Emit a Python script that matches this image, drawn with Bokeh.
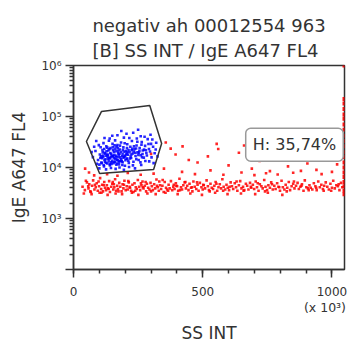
from bokeh.plotting import figure
from bokeh.models import Range1d, FixedTicker, Label, Title, LinearAxis
from bokeh.embed import file_html
from bokeh.resources import INLINE

# ---------------- data (x in units of 10^3, y raw) ----------------
red_x = [35, 44, 52, 58, 61, 67, 72, 76, 81, 86,
         90, 94, 99, 103, 107, 111, 114, 119, 122, 126,
         129, 133, 138, 141, 146, 150, 154, 158, 161, 165,
         169, 172, 177, 181, 186, 190, 193, 197, 202, 206,
         210, 214, 219, 223, 228, 232, 236, 241, 245, 249,
         254, 258, 263, 267, 271, 276, 281, 284, 289, 294,
         298, 303, 307, 312, 316, 321, 326, 330, 335, 339,
         344, 349, 353, 358, 362, 368, 372, 377, 382, 386,
         391, 396, 401, 405, 410, 416, 420, 425, 430, 435,
         440, 445, 449, 455, 460, 464, 469, 475, 480, 484,
         489, 495, 500, 504, 509, 515, 520, 524, 530, 535,
         540, 545, 550, 556, 561, 566, 571, 576, 581, 587,
         592, 597, 602, 608, 613, 618, 624, 629, 634, 640,
         645, 650, 656, 661, 667, 672, 677, 683, 688, 694,
         699, 705, 710, 716, 721, 727, 732, 738, 743, 749,
         754, 760, 765, 771, 777, 782, 788, 793, 799, 805,
         810, 816, 821, 827, 833, 838, 844, 850, 855, 861,
         867, 872, 878, 884, 890, 895, 901, 907, 913, 918,
         924, 930, 936, 941, 947, 953, 959, 965, 970, 976,
         982, 988, 994, 1000, 1005, 1011, 1017, 1023, 1029, 1035,
         48, 65, 83, 97, 117, 136, 152, 174, 195, 217,
         239, 261, 279, 300, 323, 345, 366, 388, 412, 433,
         458, 478, 502, 527, 553, 579, 604, 631, 658, 686,
         713, 741, 768, 796, 825, 853, 882, 910, 939, 968,
         997, 1026, 1040, 57, 108, 156, 212, 268, 332, 398,
         40, 70, 101, 132, 163, 188, 226, 251, 286, 318,
         356, 403, 452, 497, 548, 596, 648, 703, 752, 808]
red_y = [4200, 3600, 5100, 3900, 4700, 3300, 4400, 5600, 3700, 4100,
         4900, 3500, 4300, 6200, 3800, 4600, 3400, 5200, 4000, 3600,
         4500, 3900, 5400, 3300, 4200, 4800, 3700, 4100, 5900, 3500,
         4400, 3800, 5000, 4200, 3400, 4700, 3900, 5500, 3600, 4300,
         3700, 5100, 4000, 3500, 4600, 3300, 4900, 4100, 3800, 5700,
         4200, 3600, 4500, 5300, 3900, 4400, 3400, 4800, 4000, 3700,
         5000, 4300, 3600, 4700, 3900, 5800, 4100, 3500, 4500, 3800,
         4400, 3300, 5200, 4000, 3700, 4600, 3900, 5400, 3600, 4200,
         3800, 4900, 4300, 3500, 6000, 4100, 3700, 4500, 5100, 3900,
         4400, 3600, 4800, 4000, 3400, 5300, 4200, 3800, 4600, 3500,
         5000, 4100, 3700, 4500, 3900, 5600, 4300, 3600, 4800, 4000,
         3800, 4400, 5200, 3500, 4100, 4700, 3900, 5900, 4200, 3700,
         4600, 4000, 3600, 5100, 4300, 3800, 4900, 4100, 3500, 4500,
         5400, 3900, 4200, 3600, 4800, 4400, 3700, 5000, 4000, 4600,
         3800, 5300, 4100, 3500, 4700, 4300, 3900, 5700, 4200, 3600,
         4500, 4000, 5100, 3700, 4400, 3800, 4900, 4200, 3500, 5500,
         4100, 3700, 4600, 4000, 5200, 3600, 4300, 4800, 3900, 4400,
         5000, 3800, 4200, 4700, 3500, 5600, 4100, 3900, 4500, 4000,
         3700, 4900, 4300, 3600, 5300, 4100, 4600, 3800, 4400, 5100,
         4200, 3700, 4800, 4000, 5500, 3900, 4500, 4300, 3600, 5000,
         5500, 3400, 4600, 5300, 4500, 3800, 5200, 3400, 4600, 4200,
         3500, 4900, 5200, 3400, 4400, 5700, 3500, 4600, 3600, 5200,
         4100, 5100, 4600, 3400, 4800, 3500, 4200, 5300, 3500, 4200,
         4900, 3400, 4700, 4100, 3400, 5300, 4400, 3600, 4000, 3500,
         3500, 4700, 4100, 4300, 3200, 4700, 5400, 4100, 5300, 4400,
         3100, 3000, 3200, 2900, 3100, 3000, 3200, 2900, 3100, 3000,
         3200, 3000, 3100, 2900, 3200, 3000, 3100, 3000, 3200, 2900]

sparse_x = [357, 376, 422, 554, 446, 480, 395, 520, 600, 640,
            690, 720, 760, 800, 830, 870, 905, 940, 985, 1020,
            350, 420, 470, 530, 580, 650, 700, 745, 790, 850,
            880, 960, 1000, 310, 260, 170, 130, 60, 45, 80,
            210, 560, 660, 920, 300]
sparse_y = [31000, 23500, 26000, 29000, 14000, 12500, 18000, 16500, 11000, 19500,
            9500, 13500, 8500, 17000, 10500, 22000, 12000, 9000, 15500, 11500,
            9500, 8200, 7400, 8800, 7200, 8000, 7100, 7700, 7300, 7900,
            8600, 7400, 8200, 7600, 7200, 6900, 7400, 8000, 9500, 7000,
            7800, 23000, 27000, 26000, 18500]

edge_y = [1000000, 220000, 180000, 140000, 110000, 90000, 70000, 55000, 42000,
          33000, 26000, 20000, 16000, 12500, 10000, 8000, 6500, 5200, 4300, 3500, 3000]
edge_x = [1048.576] * len(edge_y)

blue_x = [95, 102, 108, 112, 115, 118, 121, 124, 127, 130,
          133, 135, 138, 141, 143, 146, 149, 151, 154, 157,
          160, 162, 165, 168, 170, 173, 176, 179, 181, 184,
          187, 190, 193, 196, 199, 202, 205, 208, 211, 214,
          217, 220, 223, 226, 229, 232, 236, 240, 244, 248,
          252, 256, 260, 264, 268, 272, 277, 282, 287, 292,
          105, 110, 116, 122, 128, 132, 137, 142, 147, 152,
          156, 161, 166, 171, 175, 180, 185, 189, 194, 198,
          203, 207, 212, 216, 221, 225, 230, 234, 239, 243,
          247, 251, 255, 259, 263, 267, 273, 278, 284, 290,
          296, 302, 308, 314, 320, 85, 90, 98, 100, 126,
          145, 163, 178, 195, 215, 238, 262, 275, 298, 231,
          150, 185, 205, 250, 120, 170, 140, 195, 260, 305,
          158, 167, 174, 183, 191, 200, 209, 218, 227, 113,
          119, 125, 131, 139, 144, 153, 159, 164, 172, 178,
          188, 197, 206, 213, 224, 233, 242, 253, 265, 280,
          75, 80, 293, 310, 318, 325, 70, 88, 300, 245,
          104, 109, 114, 120, 126, 131, 136, 141, 146, 152,
          157, 162, 168, 173, 179, 185, 190, 196, 201, 207,
          100, 107, 117, 123, 134, 140, 148, 155, 166, 176]
blue_y = [14000, 18000, 12500, 22000, 16000, 10500, 19500, 14500, 26000, 12000,
          17500, 21500, 15000, 11000, 24000, 18500, 13500, 29000, 16500, 20500,
          12800, 23500, 17000, 14200, 27500, 19000, 11500, 22500, 15800, 31000,
          13200, 18200, 24800, 16200, 10800, 21000, 14800, 28500, 17800, 12300,
          20000, 25500, 15400, 33000, 18800, 13000, 22800, 16800, 27000, 19800,
          14000, 24200, 17400, 31500, 21500, 15600, 26500, 19200, 36000, 23000,
          25000, 15200, 30000, 13000, 20800, 16200, 33500, 19200, 11800, 24800,
          15200, 34000, 20800, 13800, 17600, 26800, 20200, 11200, 15600, 29800,
          18000, 24000, 13600, 38000, 16400, 21800, 11000, 26000, 19400, 14600,
          32000, 17600, 21200, 12600, 28000, 18400, 22400, 13400, 17200, 28800,
          20600, 15800, 25500, 19000, 30500, 21000, 11800, 27500, 9600, 9200,
          9800, 9400, 10000, 9000, 10200, 9600, 11200, 40000, 44000, 48000,
          42000, 52000, 46000, 55000, 38000, 43000, 37000, 38500, 41000, 35500,
          17800, 25800, 21200, 13600, 22000, 17000, 20200, 15000, 23200, 19800,
          23000, 17000, 24500, 22800, 16000, 21800, 27200, 15800, 23800, 18600,
          16600, 20400, 18800, 22000, 18000, 20600, 23600, 19400, 16000, 21800,
          16000, 25500, 13200, 12200, 22500, 16500, 20000, 33000, 29000, 37000,
          15500, 12200, 17200, 14000, 12400, 18000, 13200, 15300, 12600, 16800,
          13000, 14600, 12000, 15900, 13400, 14400, 12700, 16300, 13900, 15000,
          11400, 16500, 11200, 18700, 14800, 11600, 17000, 12100, 11300, 12900]

gate_x = [50, 108, 295, 341, 310, 101]
gate_y = [32400, 125000, 164000, 29500, 9100, 7600]

title_lines = ["negativ ah 00012554 963", "[B] SS INT / IgE A647 FL4"]
x_ticks = [0, 500, 1000]
x_tick_labels = ["0", "500", "1000"]
x_multiplier_pos = 973
x_multiplier_text = "(x 10³)"
y_ticks = [100, 1000, 10000, 100000, 1000000]
y_tick_labels = ["", "10³", "10⁴", "10⁵", "10⁶"]

stat_text = "H: 35,74%"
stat_pos = (855, 28000)

# ---------------- figure ----------------
K = 1000.0
FONT = "DejaVu Sans"
TXT = "#333333"

p = figure(frame_width=271, frame_height=204,
           x_range=Range1d(0, 1048576), y_range=Range1d(100, 1e6),
           y_axis_type="log", output_backend="svg", toolbar_location=None,
           min_border_left=73, min_border_right=5, min_border_top=65,
           min_border_bottom=70, background_fill_color="white",
           border_fill_color="white", title=None)

p.add_layout(Title(text="\n".join(title_lines), align="center",
                   text_font=FONT, text_font_size="18px", text_font_style="normal",
                   text_color=TXT, text_line_height=1.2, standoff=9), "above")

p.grid.visible = False
p.outline_line_color = "#333333"
p.outline_line_width = 1.5

# x axis
p.xaxis.ticker = FixedTicker(ticks=[t * K for t in x_ticks],
                             minor_ticks=[i * 100 * K for i in range(11)])
p.xaxis.major_label_overrides = {int(t * K): lab for t, lab in zip(x_ticks, x_tick_labels)}
# y axis
minor_y = [m * 10 ** e for e in range(2, 6) for m in range(2, 10)]
p.yaxis.ticker = FixedTicker(ticks=y_ticks, minor_ticks=minor_y)
p.yaxis.major_label_overrides = {t: lab for t, lab in zip(y_ticks, y_tick_labels)}

for ax in (p.xaxis[0], p.yaxis[0]):
    ax.axis_line_color = "#333333"
    ax.axis_line_width = 1.5
    ax.major_tick_line_color = "#333333"
    ax.minor_tick_line_color = "#333333"
    ax.major_tick_line_width = 1.5
    ax.minor_tick_line_width = 1.5
    ax.major_tick_in = 0
    ax.major_tick_out = 8
    ax.minor_tick_in = 0
    ax.minor_tick_out = 4
    ax.major_label_text_font = FONT
    ax.major_label_text_font_size = "12px"
    ax.major_label_text_color = TXT
    ax.axis_label_text_font = FONT
    ax.axis_label_text_font_size = "17px"
    ax.axis_label_text_font_style = "normal"
    ax.axis_label_text_color = TXT

p.xaxis.major_label_standoff = 9
p.yaxis.axis_label = "IgE A647 FL4"
p.yaxis.major_label_standoff = 4
p.yaxis.axis_label_standoff = 9

# secondary bottom axis: multiplier text and axis title
ax2 = LinearAxis(ticker=FixedTicker(ticks=[x_multiplier_pos * K]),
                 major_label_overrides={int(x_multiplier_pos * K): x_multiplier_text},
                 axis_line_color=None, major_tick_line_color=None,
                 minor_tick_line_color=None, major_tick_in=0, major_tick_out=0,
                 minor_tick_in=0, minor_tick_out=0, major_label_standoff=1,
                 major_label_text_font=FONT, major_label_text_font_size="12.5px",
                 major_label_text_color=TXT,
                 axis_label="SS INT", axis_label_standoff=5,
                 axis_label_text_font=FONT, axis_label_text_font_size="17px",
                 axis_label_text_font_style="normal", axis_label_text_color=TXT)
p.add_layout(ax2, "below")

# points
p.scatter([x * K for x in red_x], red_y, marker="square", size=2.6,
          fill_color="#ff0000", line_color=None, fill_alpha=0.85)
p.scatter([x * K for x in sparse_x], sparse_y, marker="square", size=2.6,
          fill_color="#ff0000", line_color=None, fill_alpha=0.85)
p.scatter([x * K for x in edge_x], edge_y, marker="square", size=4,
          fill_color="#ff0000", line_color=None, fill_alpha=0.9)
p.scatter([x * K for x in blue_x], blue_y, marker="square", size=2.6,
          fill_color="#0000ff", line_color=None, fill_alpha=0.85)

# gate
p.patch([x * K for x in gate_x], gate_y, fill_color=None,
        line_color="#333333", line_width=1.5)

# stat box
p.add_layout(Label(x=stat_pos[0] * K, y=stat_pos[1], text=stat_text,
                   text_align="center", text_baseline="middle",
                   text_font=FONT, text_font_size="16px", text_color=TXT,
                   background_fill_color="white", border_line_color="#999999",
                   border_line_width=1.5, padding=7, border_radius=5))

open("out.html", "w").write(file_html(p, INLINE))
